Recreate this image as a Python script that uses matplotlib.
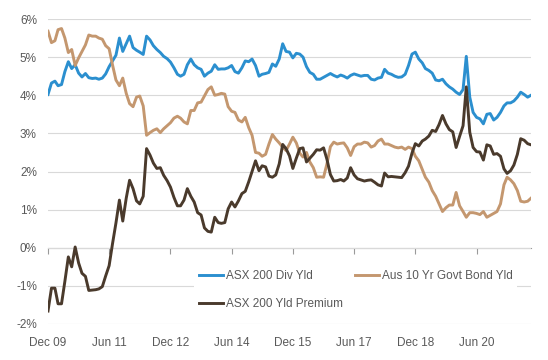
import matplotlib
matplotlib.use('Agg')
import matplotlib.pyplot as plt
import matplotlib.dates as mdates
import pandas as pd

# monthly, Dec 2009 .. Oct 2021
months = pd.date_range('2009-12-01', periods=143, freq='MS')

div_yld = [4.02, 4.32, 4.37, 4.25, 4.28, 4.62, 4.88, 4.70, 4.80, 4.58,
           4.48, 4.57, 4.46, 4.44, 4.45, 4.42, 4.45, 4.56, 4.75, 4.90,
           5.05, 5.50, 5.15, 5.35, 5.55, 5.25, 5.18, 5.13, 5.07, 5.55,
           5.45, 5.30, 5.20, 5.12, 5.02, 4.96, 4.87, 4.72, 4.55, 4.50,
           4.55, 4.80, 4.95, 4.80, 4.72, 4.68, 4.50, 4.58, 4.63, 4.80,
           4.68, 4.69, 4.69, 4.72, 4.78, 4.62, 4.58, 4.72, 4.90, 4.88,
           4.95, 4.78, 4.50, 4.55, 4.57, 4.60, 4.82, 4.76, 4.95, 5.35,
           5.15, 5.13, 4.98, 5.10, 5.08, 5.00, 4.75, 4.60, 4.55, 4.42,
           4.42, 4.47, 4.52, 4.57, 4.52, 4.48, 4.53, 4.50, 4.45, 4.52,
           4.56, 4.53, 4.50, 4.52, 4.52, 4.42, 4.40, 4.45, 4.47, 4.68,
           4.58, 4.55, 4.50, 4.47, 4.48, 4.55, 4.78, 5.08, 5.13, 4.95,
           4.85, 4.70, 4.65, 4.58, 4.40, 4.38, 4.42, 4.30, 4.22, 4.16,
           4.08, 4.02, 4.15, 5.02, 3.95, 3.55, 3.42, 3.38, 3.25, 3.50,
           3.52, 3.35, 3.42, 3.55, 3.72, 3.80, 3.80, 3.85, 3.95, 4.08,
           4.02, 3.95, 4.00]

bond_yld = [5.68, 5.38, 5.43, 5.72, 5.75, 5.50, 5.12, 5.20, 4.78, 4.98,
            5.15, 5.32, 5.58, 5.55, 5.55, 5.50, 5.47, 5.30, 5.22, 4.80,
            4.40, 4.25, 4.45, 4.05, 3.78, 3.70, 3.95, 3.98, 3.72, 2.95,
            3.02, 3.08, 3.12, 3.02, 3.12, 3.20, 3.28, 3.40, 3.45, 3.40,
            3.30, 3.25, 3.60, 3.60, 3.80, 3.82, 3.98, 4.15, 4.22, 4.00,
            4.02, 4.05, 4.03, 3.70, 3.58, 3.55, 3.35, 3.30, 3.42, 3.15,
            2.95, 2.50, 2.48, 2.40, 2.45, 2.72, 2.97, 2.85, 2.75, 2.64,
            2.55, 2.72, 2.90, 2.75, 2.48, 2.38, 2.50, 2.25, 2.10, 1.85,
            1.86, 1.85, 2.20, 2.65, 2.77, 2.72, 2.74, 2.75, 2.62, 2.42,
            2.65, 2.72, 2.72, 2.77, 2.75, 2.64, 2.68, 2.80, 2.85, 2.72,
            2.72, 2.68, 2.64, 2.62, 2.64, 2.58, 2.64, 2.60, 2.40, 2.28,
            2.05, 1.85, 1.72, 1.50, 1.35, 1.15, 0.95, 1.05, 1.12, 1.12,
            1.45, 1.10, 0.95, 0.80, 0.92, 0.92, 0.90, 0.87, 0.95, 0.80,
            0.85, 0.90, 0.95, 1.15, 1.65, 1.85, 1.78, 1.68, 1.50, 1.22,
            1.20, 1.22, 1.30]

yld_premium = [-1.66, -1.06, -1.06, -1.47, -1.47, -0.88, -0.24, -0.50, 0.02, -0.40,
               -0.67, -0.75, -1.12, -1.11, -1.10, -1.08, -1.02, -0.74, -0.47, 0.10,
               0.65, 1.25, 0.70, 1.30, 1.77, 1.55, 1.23, 1.15, 1.35, 2.60,
               2.43, 2.22, 2.08, 2.10, 1.90, 1.76, 1.59, 1.32, 1.10, 1.10,
               1.25, 1.55, 1.35, 1.20, 0.92, 0.86, 0.52, 0.43, 0.41, 0.80,
               0.66, 0.64, 0.66, 1.02, 1.20, 1.07, 1.23, 1.42, 1.48, 1.73,
               2.00, 2.28, 2.02, 2.15, 2.12, 1.88, 1.85, 1.91, 2.20, 2.71,
               2.60, 2.41, 2.08, 2.35, 2.60, 2.62, 2.25, 2.35, 2.45, 2.57,
               2.56, 2.62, 2.32, 1.92, 1.75, 1.76, 1.79, 1.75, 1.83, 2.10,
               1.91, 1.81, 1.78, 1.75, 1.77, 1.78, 1.72, 1.65, 1.62, 1.96,
               1.86, 1.87, 1.86, 1.85, 1.84, 1.97, 2.14, 2.48, 2.73, 2.67,
               2.80, 2.85, 2.93, 3.08, 3.05, 3.23, 3.47, 3.25, 3.10, 3.04,
               2.63, 2.92, 3.20, 4.22, 3.03, 2.63, 2.52, 2.51, 2.30, 2.70,
               2.67, 2.45, 2.47, 2.40, 2.07, 1.95, 2.02, 2.17, 2.45, 2.86,
               2.82, 2.73, 2.70]

tick_dates = pd.date_range('2009-12-01', periods=8, freq='18MS')
tick_labels = ['Dec 09', 'Jun 11', 'Dec 12', 'Jun 14', 'Dec 15', 'Jun 17', 'Dec 18', 'Jun 20']
y_ticks = [-2, -1, 0, 1, 2, 3, 4, 5, 6]

plt.rcParams['font.family'] = ['Liberation Sans', 'DejaVu Sans']
TEXT = '#595959'

x = mdates.date2num(months)
xt = mdates.date2num(tick_dates)

fig = plt.figure(figsize=(5.48, 3.6), dpi=100)
ax = fig.add_axes([48 / 548, 36 / 360, 483 / 548, 305 / 360])

h1, = ax.plot(x, div_yld, color='#2b8fcf', lw=2.1, solid_joinstyle='round')
h2, = ax.plot(x, bond_yld, color='#c4976f', lw=2.1, solid_joinstyle='round')
h3, = ax.plot(x, yld_premium, color='#4a3a2c', lw=2.1, solid_joinstyle='round')

ax.set_xlim(x[0], x[-1])
ax.set_ylim(-2, 6)
ax.set_yticks(y_ticks, [f'{v}%' for v in y_ticks])
ax.yaxis.grid(True, color='#d9d9d9', lw=0.8)
ax.set_axisbelow(True)
for s in ax.spines.values():
    s.set_visible(False)
ax.tick_params(axis='y', length=0, pad=8, labelsize=8.5, labelcolor=TEXT)
ax.set_xticks(xt, tick_labels)
ax.tick_params(axis='x', length=0, pad=9.5, labelsize=8.5, labelcolor=TEXT)

# axis line with tick marks sits on the 0% line
zero = (0 - (-2)) / (6 - (-2))
sec = ax.secondary_xaxis(zero)
sec.set_xticks(xt)
sec.tick_params(length=4, width=0.8, color='#9a9a9a', labelbottom=False, labeltop=False)
sec.spines['bottom'].set_color('#9a9a9a')
sec.spines['bottom'].set_linewidth(0.8)

leg = ax.legend([h1, h3, h2],
                ['ASX 200 Div Yld', 'ASX 200 Yld Premium', 'Aus 10 Yr Govt Bond Yld'],
                ncol=2, loc='upper left', bbox_to_anchor=(0.29, 0.212),
                fancybox=False, edgecolor='none', facecolor='white', framealpha=1,
                fontsize=8.5, handlelength=2.1, handletextpad=0.2,
                columnspacing=1.0, labelspacing=1.4, borderpad=0.4)
for t in leg.get_texts():
    t.set_color(TEXT)

fig.savefig('out.png', dpi=100)
